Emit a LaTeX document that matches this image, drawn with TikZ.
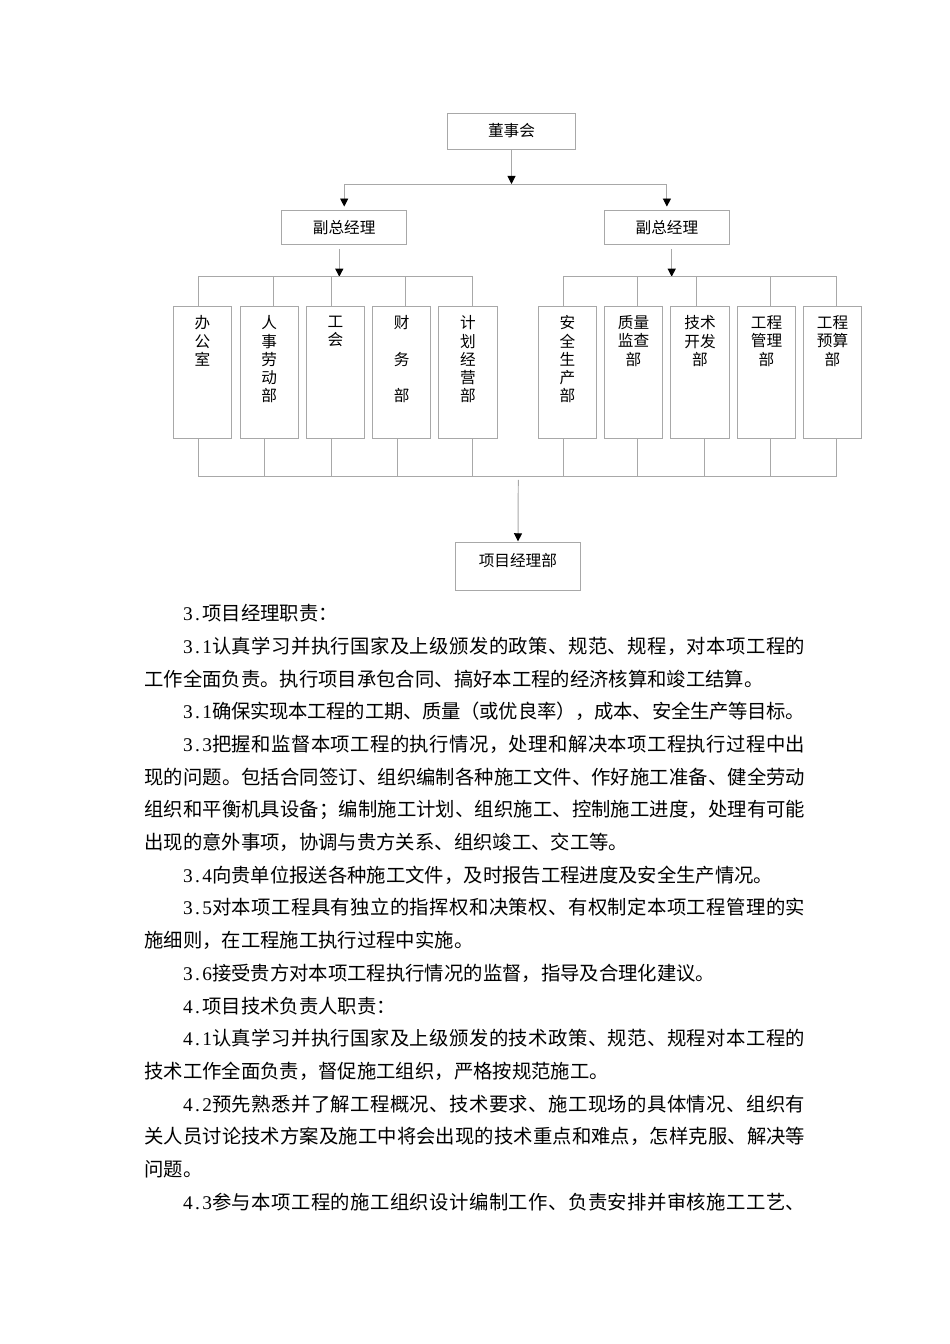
\documentclass[tikz,border=0pt]{standalone}
\usepackage{fontspec}
\setmainfont{Noto Sans CJK SC}
\newfontfamily\numfont{Liberation Serif}
\usetikzlibrary{arrows.meta,positioning}
\definecolor{linegray}{RGB}{168,168,168}

% spread the characters of one line over a fixed width
\def\spreadend{}
\def\spreadA#1{\ifx#1\spreadend\else#1\expandafter\spreadB\fi}
\def\spreadB#1{\ifx#1\spreadend\else\hskip0pt plus1fill minus1fill#1\expandafter\spreadB\fi}
\newcommand{\fullline}[3]{\hbox to #1{#2\spreadA#3\spreadend}}
\newcommand{\hw}[1]{\makebox[6pt][c]{\numfont #1}}
\newcommand{\fw}{409.8pt}
\newcommand{\iw}{385.8pt}

\begin{document}
\begin{tikzpicture}[x=0.62pt,y=-0.62pt,
  box/.style={draw=linegray,line width=0.6pt,inner sep=0pt,font=\fontsize{9.7}{11.3}\selectfont},
  dept/.style={draw=linegray,line width=0.6pt,minimum width=36.2pt,minimum height=82.2pt,anchor=north},
  depttxt/.style={anchor=north,inner sep=0pt,align=center,font=\fontsize{9.7}{11.3}\selectfont},
  conn/.style={draw=linegray,line width=0.6pt},
  arr/.style={conn,-{Triangle[length=5pt,width=5pt,black]}},
  para/.style={anchor=base west,inner sep=0pt,font=\fontsize{12}{14}\selectfont}]
\useasboundingbox (0,0) rectangle (950,1344);

% chart
\node[box,minimum width=78.9pt,minimum height=22.3pt] (board) at (511.5,131) {董事会};
\node[box,minimum width=77.5pt,minimum height=21.1pt] (vpl) at (344.2,227.3) {副总经理};
\node[box,minimum width=77.5pt,minimum height=21.1pt] (vpr) at (666.9,227.3) {副总经理};
\node[box,minimum width=77.1pt,text height=14.4pt,text depth=14.9pt] (proj) at (517.9,566.4) {项目经理部};

\foreach \i/\x/\lbl in {1/202.5/{办\\公\\室},2/269.2/{人\\事\\劳\\动\\部},3/335.5/{工\\会},
  4/401.7/{财\\[11.3pt]务\\[11.3pt]部},5/467.9/{计\\划\\经\\营\\部},6/567.5/{安\\全\\生\\产\\部},
  7/633.5/{质量\\监查\\部},8/700/{技术\\开发\\部},9/766.5/{工程\\管理\\部},10/832.5/{工程\\预算\\部}}{
  \node[dept] (d\i) at (\x,305.7) {};
  \node[depttxt] (dt\i) at ([yshift=-6pt]d\i.north) {\lbl};
}

\coordinate (topbus) at (511.5,184);
\coordinate (busl) at (339.3,276.7);
\coordinate (busr) at (671.7,276.7);
\coordinate (busb) at (518.3,476.7);

\draw[arr] (board) -- (topbus);
\draw[conn] (vpl.north |- topbus) -- (vpr.north |- topbus);
\draw[arr,shorten >=2pt] (vpl.north |- topbus) -- (vpl.north);
\draw[arr,shorten >=2pt] (vpr.north |- topbus) -- (vpr.north);
\draw[arr,shorten <=2.5pt] (busl |- vpl.south) -- (busl);
\draw[arr,shorten <=2.5pt] (busr |- vpr.south) -- (busr);
\draw[conn] (198.3,0 |- busl) -- (472.7,0 |- busl);
\draw[conn] (563.3,0 |- busr) -- (836.7,0 |- busr);
\draw[conn] (198.3,0 |- busb) -- (836.7,0 |- busb);
\foreach \i/\xt/\xb in {1/198.3/198.3,2/273.3/264.3,3/331.7/331.7,4/405.7/397.7,5/472.7/472.7,
  6/563.3/563.3,7/637.3/637.3,8/696/704.5,9/770.7/770.7,10/836.7/836.7}{
  \draw[conn] (\xt,0 |- busl) -- (\xt,0 |- d\i.north);
  \draw[conn] (\xb,0 |- d\i.south) -- (\xb,0 |- busb);
}
\draw[arr,shorten <=2pt,shorten >=0.6pt] (busb) -- (proj);

% text
\node[para] (l0) at (182.7,620.7) {\hw3\hw.项目经理职责：};
\node[para] (l1) at (182.7,653.4) {\fullline{\iw}{\hw3\hw.\hw1}{认真学习并执行国家及上级颁发的政策、规范、规程，对本项工程的}};
\node[para] (l2) at (144,686.1) {工作全面负责。执行项目承包合同、搞好本工程的经济核算和竣工结算。};
\node[para] (l3) at (182.7,718.8) {\fullline{\iw}{\hw3\hw.\hw1}{确保实现本工程的工期、质量（或优良率），成本、安全生产等目标。}};
\node[para] (l4) at (182.7,751.5) {\fullline{\iw}{\hw3\hw.\hw3}{把握和监督本项工程的执行情况，处理和解决本项工程执行过程中出}};
\node[para] (l5) at (144,784.2) {\fullline{\fw}{}{现的问题。包括合同签订、组织编制各种施工文件、作好施工准备、健全劳动}};
\node[para] (l6) at (144,816.8) {\fullline{\fw}{}{组织和平衡机具设备；编制施工计划、组织施工、控制施工进度，处理有可能}};
\node[para] (l7) at (144,849.5) {出现的意外事项，协调与贵方关系、组织竣工、交工等。};
\node[para] (l8) at (182.7,882.2) {\hw3\hw.\hw4向贵单位报送各种施工文件，及时报告工程进度及安全生产情况。};
\node[para] (l9) at (182.7,914.9) {\fullline{\iw}{\hw3\hw.\hw5}{对本项工程具有独立的指挥权和决策权、有权制定本项工程管理的实}};
\node[para] (l10) at (144,947.6) {施细则，在工程施工执行过程中实施。};
\node[para] (l11) at (182.7,980.3) {\hw3\hw.\hw6接受贵方对本项工程执行情况的监督，指导及合理化建议。};
\node[para] (l12) at (182.7,1013) {\hw4\hw.项目技术负责人职责：};
\node[para] (l13) at (182.7,1045.7) {\fullline{\iw}{\hw4\hw.\hw1}{认真学习并执行国家及上级颁发的技术政策、规范、规程对本工程的}};
\node[para] (l14) at (144,1078.4) {技术工作全面负责，督促施工组织，严格按规范施工。};
\node[para] (l15) at (182.7,1111.1) {\fullline{\iw}{\hw4\hw.\hw2}{预先熟悉并了解工程概况、技术要求、施工现场的具体情况、组织有}};
\node[para] (l16) at (144,1143.7) {\fullline{\fw}{}{关人员讨论技术方案及施工中将会出现的技术重点和难点，怎样克服、解决等}};
\node[para] (l17) at (144,1176.4) {问题。};
\node[para] (l18) at (182.7,1209.1) {\fullline{\iw}{\hw4\hw.\hw3}{参与本项工程的施工组织设计编制工作、负责安排并审核施工工艺、}};
\end{tikzpicture}
\end{document}
